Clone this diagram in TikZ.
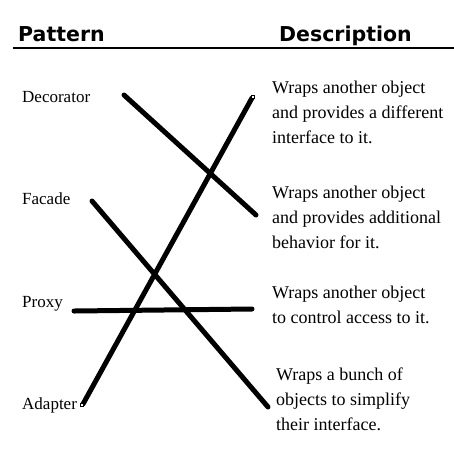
\documentclass[tikz,border=0pt]{standalone}
\usepackage{fontspec}
\setmainfont{Liberation Serif}
\newfontfamily\headfont{DejaVu Sans}
\begin{document}
\begin{tikzpicture}[x=1pt,y=-1pt,
  head/.style={font=\headfont\bfseries\fontsize{20.5}{24}\selectfont, anchor=base west, inner sep=0pt},
  pat/.style={font=\fontsize{17}{20}\selectfont, anchor=base west, inner sep=0pt},
  desc/.style={font=\fontsize{18}{25}\selectfont, anchor=base west, inner sep=0pt, align=left},
  link/.style={line width=5pt, line cap=round},
  handle/.style={draw=black, fill=white, line width=0.6pt, minimum size=3pt, inner sep=0pt}]
\useasboundingbox[fill=white] (0,0) rectangle (454,451);
\node[head] (hp) at (18,41) {Pattern};
\node[head] (hd) at (279,41) {Description};
\draw[line width=1.4pt] (13,48) coordinate (r1) -- (454,48) coordinate (r2);
\node[pat] (dec) at (22,102) {Decorator};
\node[pat] (fac) at (22,204) {Facade};
\node[pat] (pro) at (22,307) {Proxy};
\node[pat] (ada) at (22,409) {Adapter};
\node[desc] (d1) at (272,143) {Wraps another object\\and provides a different\\interface to it.};
\node[desc] (d2) at (272,248) {Wraps another object\\and provides additional\\behavior for it.};
\node[desc] (d3) at (272,323) {Wraps another object\\to control access to it.};
\node[desc] (d4) at (276,430) {Wraps a bunch of\\objects to simplify\\their interface.};
\coordinate (a1) at (124,95);
\coordinate (a2) at (256,215);
\coordinate (b1) at (83,404);
\coordinate (b2) at (252,98);
\coordinate (c1) at (92,201);
\coordinate (c2) at (268,407);
\coordinate (e1) at (74,311);
\coordinate (e2) at (252,309);
\draw[link] (a1) -- (a2);
\draw[link] (b1) -- (b2);
\draw[link] (c1) -- (c2);
\draw[link] (e1) -- (e2);
\node[handle] (h1) at (253,97) {};
\node[handle] (h2) at (82,405) {};
\end{tikzpicture}
\end{document}
